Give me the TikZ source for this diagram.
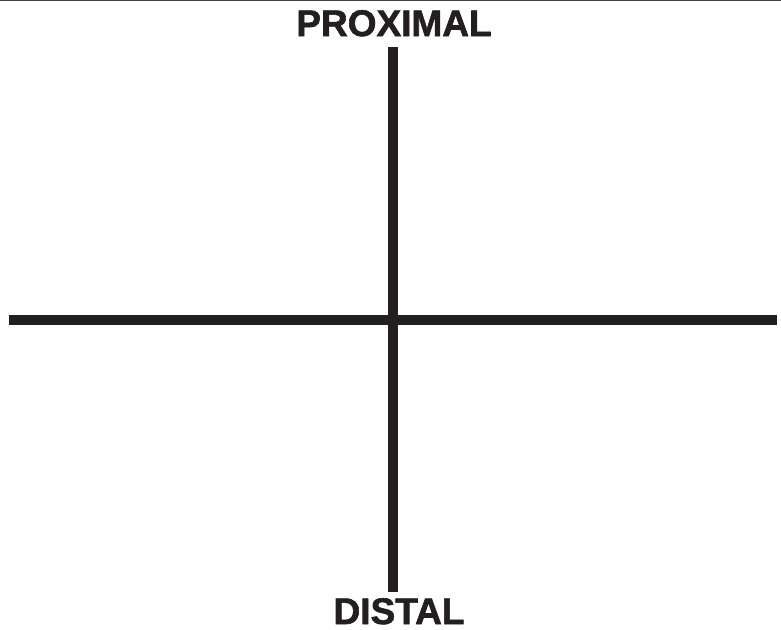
\documentclass[tikz,border=0pt]{standalone}
\usepackage{fontspec}
\setmainfont{Liberation Sans}
\newfontfamily\heavyfont[FakeBold=1.6]{Liberation Sans Bold}
\usetikzlibrary{positioning}
\definecolor{inkblack}{RGB}{35,31,32}
\tikzset{
  axis/.style={draw=inkblack,line width=10pt},
  frameline/.style={draw=inkblack!85,line width=1.5pt},
  axislabel/.style={font=\heavyfont\fontsize{37}{40}\selectfont,text=inkblack,inner sep=0pt,
    text height=27pt,text depth=0pt,anchor=base},
}
\begin{document}
\begin{tikzpicture}[x=1pt,y=-1pt]
    \useasboundingbox (0,0) rectangle (781,629);
    \draw[frameline] (0,0.5) -- (781,0.5);
    % axis ends
    \coordinate (top) at (393,47);
    \coordinate (bottom) at (393,592);
    \coordinate (left) at (9,320);
    \coordinate (right) at (777,320);
    \draw[axis] (left) -- (right);
    \draw[axis] (top) -- (bottom);
    \node[axislabel] (prox) at (394,36) {PROXIMAL};
    \node[axislabel] (dist) at (399,624) {DISTAL};
\end{tikzpicture}
\end{document}
